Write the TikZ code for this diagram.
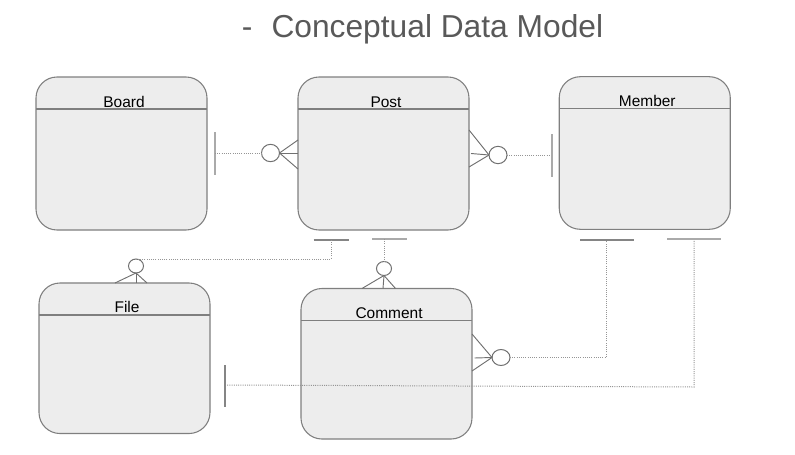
\documentclass[tikz,border=0pt]{standalone}
\usepackage{fontspec}
\setmainfont{Liberation Sans}
\usetikzlibrary{shapes.geometric}
\definecolor{boxfill}{HTML}{EDEDED}
\definecolor{boxline}{HTML}{7F7F7F}
\definecolor{titlegray}{HTML}{595959}
\definecolor{dotgray}{HTML}{959595}
\definecolor{crowgray}{HTML}{707070}
\definecolor{bargray}{HTML}{858585}
\definecolor{barlight}{HTML}{AAAAAA}
\begin{document}
\begin{tikzpicture}[x=0.75pt,y=-0.75pt,
 entity/.style={draw=boxline,fill=boxfill,line width=0.8pt,rounded corners=15.75pt,minimum width=128.25pt,minimum height=114.75pt,inner sep=0pt,outer sep=0pt},
 ename/.style={font=\fontsize{11.6pt}{13pt}\selectfont,text=black,inner sep=0pt,anchor=base},
 hdr/.style={draw=boxline,line width=0.8pt},
 ring/.style={draw=crowgray,fill=white,ellipse,line width=0.75pt,inner sep=0pt,outer sep=0pt,minimum width=13.5pt,minimum height=13pt},
 smallring/.style={ring,minimum width=11.25pt,minimum height=10.5pt},
 crow/.style={draw=crowgray,line width=0.7pt},
 rel/.style={draw=dotgray,line width=0.75pt,dash pattern=on 0.75pt off 0.9pt},
 bar/.style={draw=bargray,line width=1.1pt},
 lightbar/.style={draw=barlight,line width=1.5pt}]
\useasboundingbox (0,0) rectangle (795,454);

% title
\node[anchor=base west,inner sep=0pt,text=titlegray,font=\fontsize{23.8pt}{28pt}\selectfont] (title) at (241.5,37) {-\hspace{14.4pt}Conceptual Data Model};

% entities
\node[entity] (board) at (121.5,153.5) {};
\node[entity] (post) at (383.5,153.5) {};
\node[entity,minimum height=114.45pt] (member) at (644.75,153) {};
\node[entity,minimum height=112.9pt] (file) at (124.5,358.25) {};
\node[entity,minimum height=112.9pt] (comment) at (386.5,363.75) {};

\foreach \e/\t in {board/Board,post/Post,member/Member,file/File,comment/Comment}{
  \draw[hdr] ([yshift=-24pt]\e.north west) -- ([yshift=-24pt]\e.north east);
  \node[ename] (\e-name) at ([xshift=1.9pt,yshift=-22.5pt]\e.north) {\t};
}

% Board -- Post
\coordinate (b1t) at (215,132);
\coordinate (b1b) at (215,175);
\draw[bar,draw=barlight,line width=1.4pt] (b1t) -- (b1b);
\node[ring] (r1) at (270.5,153) {};
\draw[rel] (b1t |- r1.west) -- (r1.west);
\draw[crow] (post.west |- 0,140) -- (r1.east) -- (post.west |- 0,169);
\draw[crow] (post.west |- 0,153) -- (r1.east);

% Post -- Member
\node[ring] (r2) at (498,155) {};
\draw[crow] (post.east |- 0,130) -- (r2.west) -- (post.east |- 0,167);
\draw[crow] ([xshift=1.5pt]post.east) -- (r2.west);
\coordinate (b2t) at (552,134);
\coordinate (b2b) at (552,177);
\draw[rel] (r2.east) -- (b2t |- r2.east);
\draw[bar,draw=barlight,line width=1.4pt] (b2t) -- (b2b);

% Post -- File
\coordinate (b3l) at (313.5,240);
\coordinate (b3r) at (349,240);
\coordinate (b3m) at (331,240);
\draw[bar] (b3l) -- (b3r);
\node[smallring] (r3) at (136,266) {};
\draw[rel] (b3m) |- (r3.north);
\draw[crow] (file.north -| 115,0) -- (r3.south) -- (file.north -| 147,0);
\draw[crow] (file.north -| 136,0) -- (r3.south);

% Post -- Comment
\coordinate (b4l) at (372,239);
\coordinate (b4r) at (407,239);
\node[smallring] (r4) at (384,268.5) {};
\coordinate (b4m) at (384,239);
\draw[bar,draw=barlight] (b4l) -- (b4r);
\draw[rel] (b4m) -- (r4.north);
\draw[crow] (comment.north -| 362,0) -- (r4.south) -- (comment.north -| 395.5,0);
\draw[crow] (comment.north -| 383,0) -- (r4.south);

% Comment -- Member
\node[ring,minimum height=12pt] (r5) at (501,357.5) {};
\coordinate (c5m) at (474.5,358);
\draw[crow] (comment.east |- 0,334) -- (r5.west) -- (comment.east |- 0,371);
\draw[crow] (c5m) -- (r5.west);
\coordinate (b5l) at (580,240);
\coordinate (b5r) at (634,240);
\coordinate (b5m) at (606,240);
\draw[rel] (r5.east) -| (b5m);
\draw[bar] (b5l) -- (b5r);

% File -- Member
\coordinate (b6l) at (667,239);
\coordinate (b6r) at (721,239);
\coordinate (b6m) at (694,239);
\coordinate (b7t) at (225,365);
\coordinate (b7b) at (225,407);
\coordinate (e6) at (226.5,385);
\draw[rel] (b6m) -- (b6m |- 0,387) -- (e6);
\draw[lightbar] (b6l) -- (b6r);
\draw[bar] (b7t) -- (b7b);
\end{tikzpicture}
\end{document}
